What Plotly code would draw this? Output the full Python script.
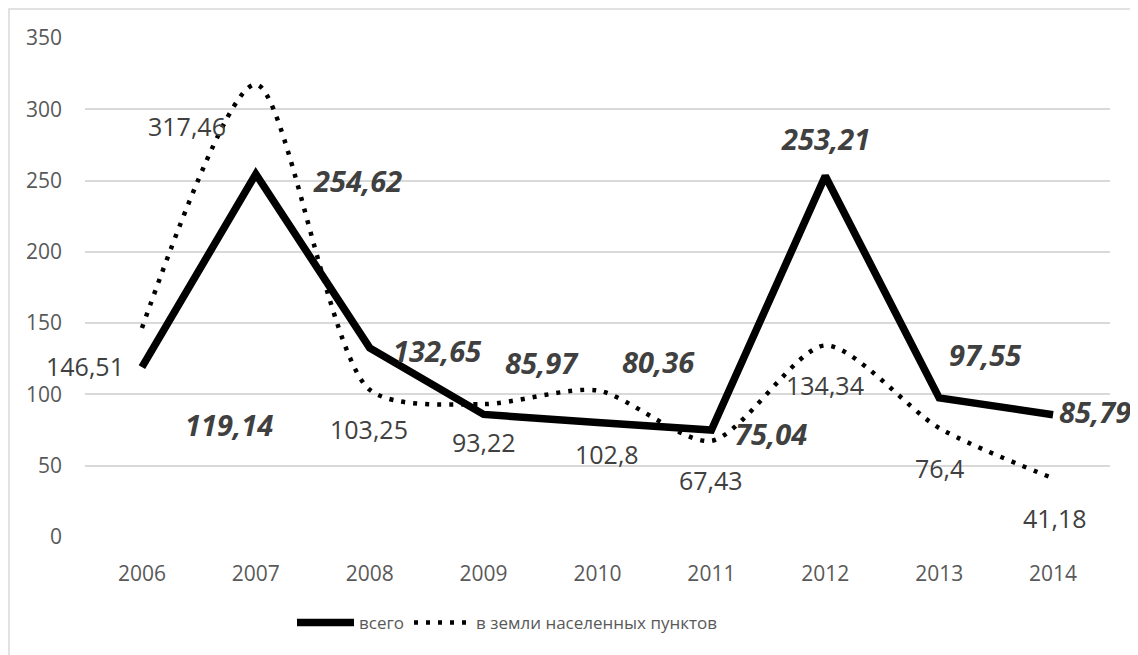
import plotly.graph_objects as go

years = ["2006", "2007", "2008", "2009", "2010", "2011", "2012", "2013", "2014"]
total = [119.14, 254.62, 132.65, 85.97, 80.36, 75.04, 253.21, 97.55, 85.79]
settlements = [146.51, 317.46, 103.25, 93.22, 102.8, 67.43, 134.34, 76.4, 41.18]
name_total = "всего"
name_settl = "в земли населенных пунктов"
y_ticks = [0, 50, 100, 150, 200, 250, 300, 350]

# label placement offsets (pixels: dx right, dy down)
total_off = [(87, 57), (102, 7), (67, 3), (58, -52), (61, -61), (60, 3), (0, -37), (46, -43), (42, -3)]
settl_off = [(-57, 38), (-69, 42), (-1, 39), (0, 38), (9, 64), (0, 39), (0, 40), (0, 40), (2, 40)]

def fmt(v):
    s = ("%.2f" % v).rstrip("0").rstrip(".")
    return s.replace(".", ",")

FONT = "Open Sans"
# page body has an ~8px offset; plot area in page coords: x 85..1110, y 38..537
OFF = 8
L, R, T, B = 85 - OFF, 1110 - OFF, 38 - OFF, 537 - OFF
W, H = 1138, 655
PW, PH = R - L, B - T

fig = go.Figure()
fig.add_trace(go.Scatter(
    x=years, y=settlements, name=name_settl, mode="lines",
    line=dict(color="black", width=4.5, dash="4px,8px", shape="spline", smoothing=0.75),
    legendrank=2,
))
fig.add_trace(go.Scatter(
    x=years, y=total, name=name_total, mode="lines",
    line=dict(color="black", width=7.5),
    legendrank=1,
))

ann = []
for i, (v, (dx, dy)) in enumerate(zip(total, total_off)):
    ann.append(dict(x=i, y=v, xref="x", yref="y", text="<b><i>%s</i></b>" % fmt(v),
                    showarrow=False, xshift=dx, yshift=-dy,
                    font=dict(family=FONT, size=29, color="#404040")))
for i, (v, (dx, dy)) in enumerate(zip(settlements, settl_off)):
    ann.append(dict(x=i, y=v, xref="x", yref="y", text=fmt(v),
                    showarrow=False, xshift=dx, yshift=-dy,
                    font=dict(family=FONT, size=25, color="#404040")))

fig.update_layout(
    width=W, height=H,
    margin=dict(l=L, r=W - R, t=T, b=H - B, autoexpand=False),
    paper_bgcolor="white", plot_bgcolor="white",
    font=dict(family=FONT, color="#595959"),
    showlegend=True,
    legend=dict(orientation="h", x=(292 - 85) / PW, xanchor="left",
                y=(537 - 623) / PH, yanchor="middle",
                font=dict(family=FONT, size=17, color="#595959"),
                itemwidth=57, tracegroupgap=0),
    annotations=ann,
    xaxis=dict(type="category", range=[-0.5, 8.5], autorange=False, showgrid=False,
               zeroline=False, showline=False,
               tickfont=dict(size=21, color="#595959"), ticks="", ticklabelstandoff=22),
    yaxis=dict(range=[0, 350], autorange=False, tickvals=y_ticks, showgrid=True,
               gridcolor="#d9d9d9", gridwidth=1.5, zeroline=False, showline=False,
               tickfont=dict(size=21, color="#595959"), ticks="", ticklabelstandoff=22),
    shapes=[dict(type="rect", xref="paper", yref="paper",
                 x0=(9 - 85) / PW, x1=(1145 - 85) / PW,
                 y0=(537 - 665) / PH, y1=(537 - 9) / PH,
                 line=dict(color="#d9d9d9", width=1.5), layer="below")],
)

fig.write_html("out.html")
